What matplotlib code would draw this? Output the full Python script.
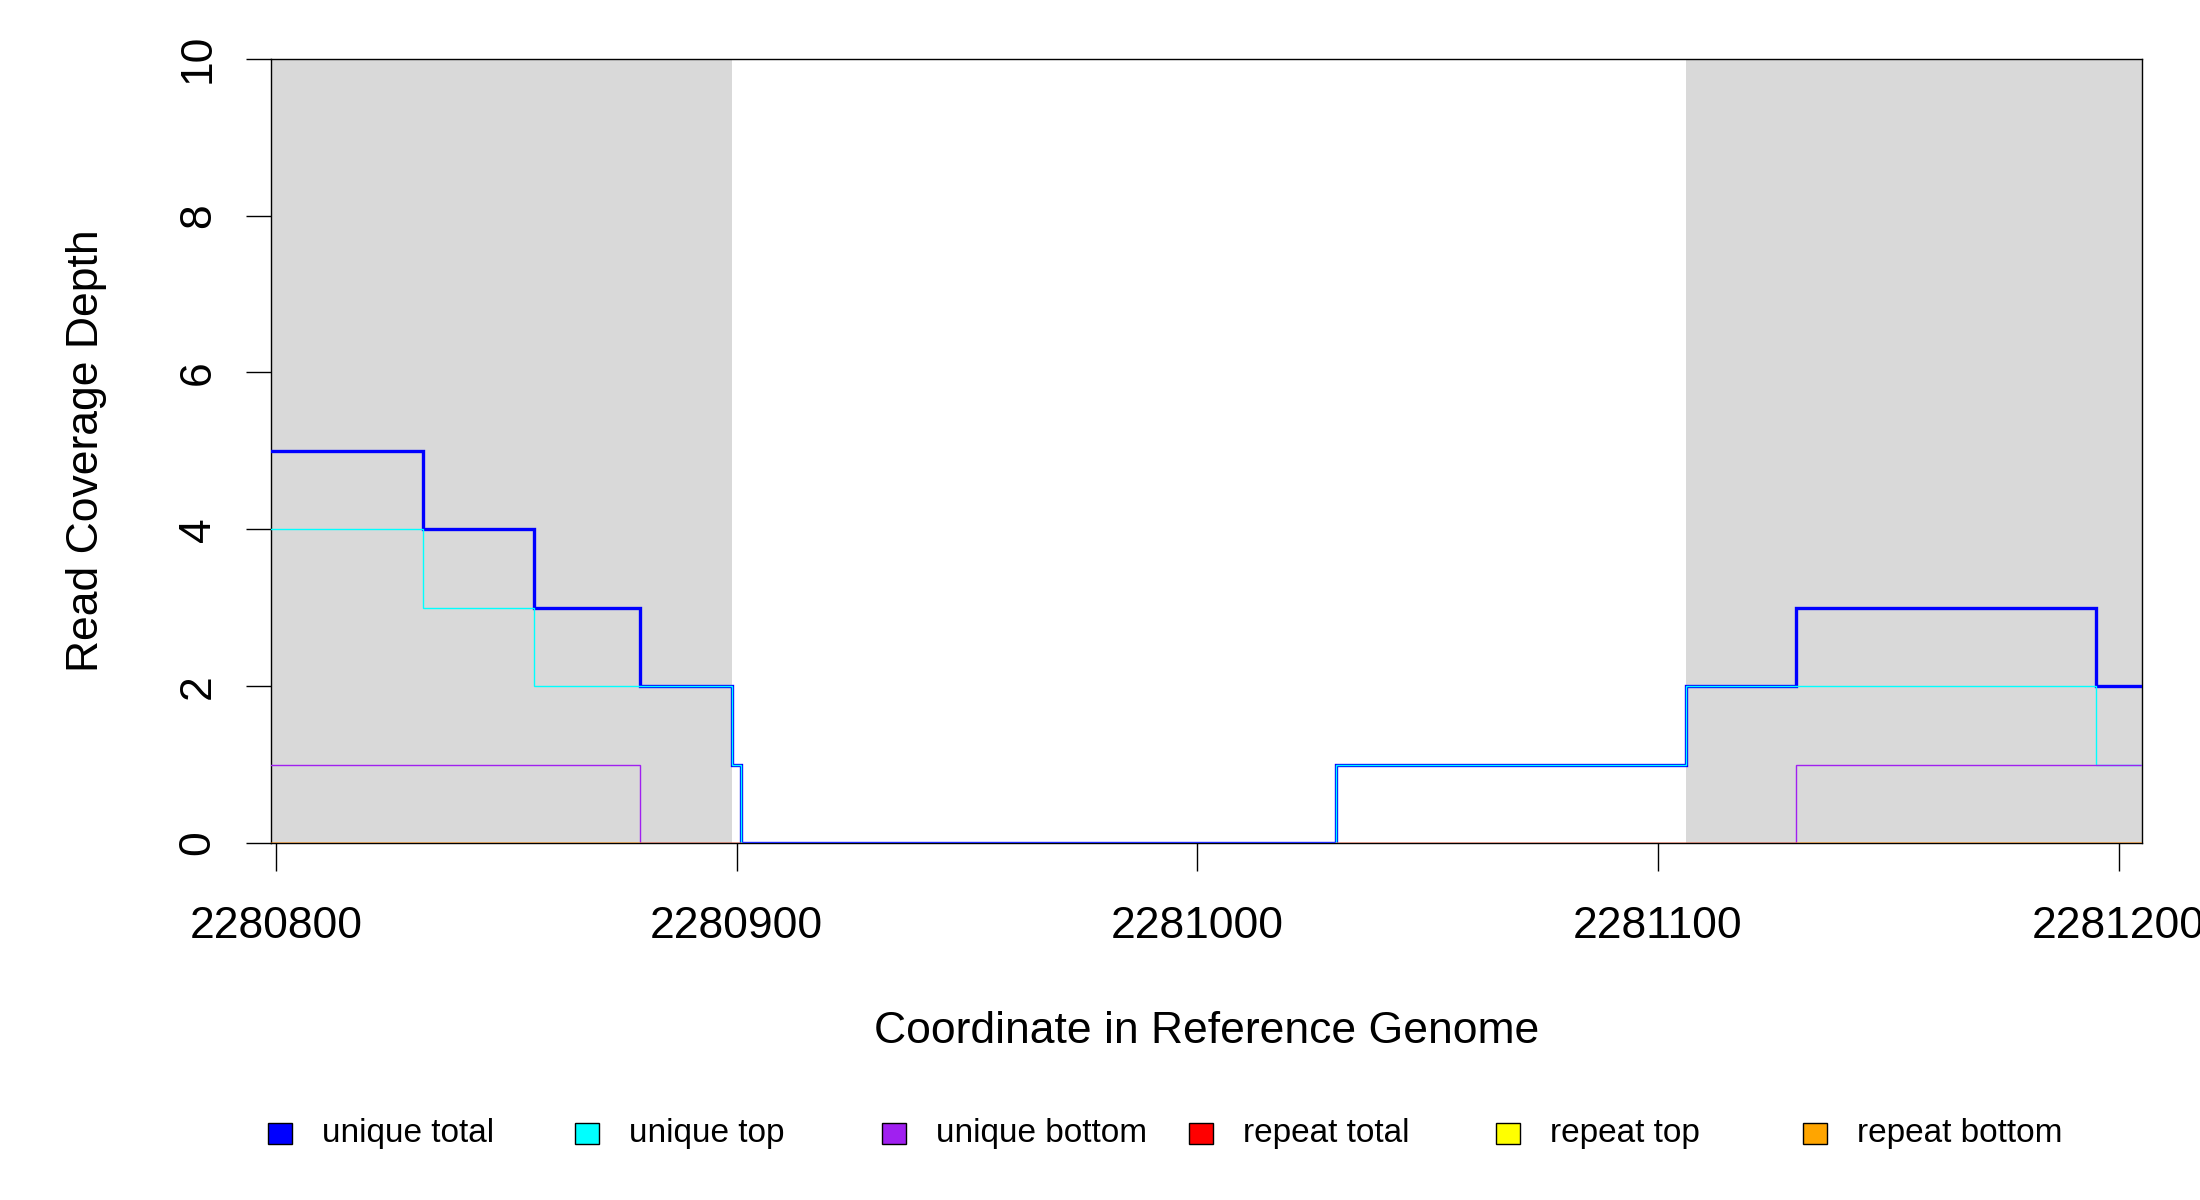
import numpy as np
import matplotlib
matplotlib.use("Agg")
import matplotlib.pyplot as plt
from matplotlib.patches import Rectangle

plt.rcParams['font.family'] = ['Liberation Sans', 'DejaVu Sans']

# step edges along the reference genome (segment boundaries)
edges = [2280799, 2280832, 2280856, 2280879, 2280899, 2280901,
         2281030, 2281106, 2281130, 2281195, 2281205]

# coverage per segment (len(edges) - 1 values); nan = not drawn
nan = np.nan
unique_total = [5, 4, 3, 2, 1, 0, 1, 2, 3, 2]
unique_top = [4, 3, 2, 2, 1, 0, 1, 2, 2, 1]
unique_bottom = [1, 1, 1, 0, 0, 0, 0, 0, 1, 1]
repeat_total = [0, 0, 0, 0, 0, nan, 0, 0, 0, 0]
repeat_top = [0, 0, 0, 0, 0, nan, 0, 0, 0, 0]
repeat_bottom = [0, 0, 0, nan, nan, nan, nan, nan, 0, 0]

# shaded flanking regions
shaded = [(2280799, 2280899), (2281106, 2281205)]

x_ticks = [2280800, 2280900, 2281000, 2281100, 2281200]
y_ticks = [0, 2, 4, 6, 8, 10]

legend_labels = ['unique total', 'unique top', 'unique bottom',
                 'repeat total', 'repeat top', 'repeat bottom']
legend_colors = ['#0000FF', '#00FFFF', '#A020F0', '#FF0000', '#FFFF00', '#FFA500']


def step_line(ax, vals, color, lw, z):
    v = np.array(vals, dtype=float)
    ax.step(edges, np.append(v, v[-1]), where='post', color=color,
            linewidth=lw, zorder=z, solid_joinstyle='miter')


fig = plt.figure(figsize=(22, 12), dpi=100)
ax = fig.add_axes([0.1234, 0.2975, 0.8501, 0.6536])

for x0, x1 in shaded:
    ax.axvspan(x0, x1, color='#D9D9D9', lw=0, zorder=0)

step_line(ax, unique_total, '#0000FF', 2.4, 3)
step_line(ax, unique_top, '#00FFFF', 1.0, 4)
step_line(ax, unique_bottom, '#A020F0', 1.0, 5)
step_line(ax, repeat_top, '#FFFF00', 1.0, 6)
step_line(ax, repeat_total, '#FF0000', 1.0, 7)
step_line(ax, repeat_bottom, '#FFA500', 1.0, 8)

ax.set_xlim(2280799, 2281205)
ax.set_ylim(0, 10)

for s in ax.spines.values():
    s.set_linewidth(1.0)
    s.set_color('black')

ax.set_xticks(x_ticks)
ax.set_xticklabels([str(t) for t in x_ticks])
ax.set_yticks(y_ticks)
ax.set_yticklabels([str(t) for t in y_ticks], rotation=90, va='center')
ax.tick_params(axis='x', length=20, width=1.0, pad=25, labelsize=32)
ax.tick_params(axis='y', length=18, width=1.0, pad=20, labelsize=32)

ax.set_xlabel('Coordinate in Reference Genome', fontsize=32, va='center')
ax.xaxis.set_label_coords(0.5, -0.2397)
ax.set_ylabel('Read Coverage Depth', fontsize=32, va='center')
ax.yaxis.set_label_coords(-0.0987, 0.5)

# legend row under the plot
box_w, box_h = 24 / 2200, 21 / 1200
y_mid = 1 - 1133.5 / 1200
for i, (lab, col) in enumerate(zip(legend_labels, legend_colors)):
    bx = (268 + i * 307) / 2200
    fig.patches.append(Rectangle((bx, y_mid - box_h / 2), box_w, box_h,
                                 transform=fig.transFigure, facecolor=col,
                                 edgecolor='black', linewidth=1.0))
    fig.text(bx + 54 / 2200, y_mid, lab, fontsize=24, ha='left', va='center')

fig.savefig('out.png', dpi=100, facecolor='white')
